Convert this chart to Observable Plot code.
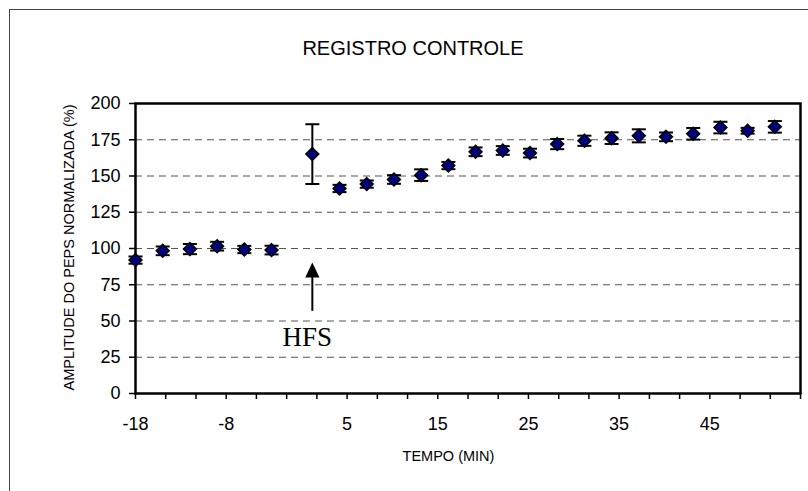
<!DOCTYPE html>
<html>
<head>
<meta charset="utf-8">
<script src="https://cdn.jsdelivr.net/npm/d3@7"></script>
<script src="https://cdn.jsdelivr.net/npm/@observablehq/plot@0.6"></script>
<style>
  html, body { margin: 0; padding: 0; background: #fff; overflow: hidden; }
  #wrap { position: relative; width: 808px; height: 491px; overflow: hidden; }
  #outer { position: absolute; left: 9px; top: 9px; width: 900px; height: 600px; border: 1px solid #444; box-sizing: border-box; }
  #chart { position: absolute; left: 0; top: 0; }
</style>
</head>
<body>
<div id="wrap"><div id="outer"></div><div id="chart"></div></div>
<script>
// ---- data ----
const time = [-18, -15, -12, -9, -6, -3, 1.5, 4.5, 7.5, 10.5, 13.5, 16.5, 19.5, 22.5, 25.5, 28.5, 31.5, 34.5, 37.5, 40.5, 43.5, 46.5, 49.5, 52.5];
const amplitude = [92.0, 98.4, 99.6, 101.6, 99.3, 98.9, 165.1, 141.4, 144.4, 147.6, 150.6, 157.2, 166.7, 167.6, 165.8, 172.0, 174.3, 176.1, 177.7, 177.0, 179.1, 183.4, 181.2, 183.9];
const sem = [2.5, 3, 3.5, 3, 2.5, 3, 20.6, 2.5, 2.5, 3, 4, 2.5, 3, 3, 3, 3.5, 3.5, 4, 4.5, 3, 4, 4, 2, 4];

const xTickValues = [-18, -14.67, -11.33, -8, -4.67, -1.33, 2, 5.33, 8.67, 12, 15.33, 18.67, 22, 25.33, 28.67, 32, 35.33, 38.67, 42, 45.33, 48.67, 52, 55.33];
const xTickLabels = ["-18", "", "", "-8", "", "", "", "5", "", "", "15", "", "", "25", "", "", "35", "", "", "45", "", "", ""];
const yTicks = [0, 25, 50, 75, 100, 125, 150, 175, 200];
const yGrid = [25, 50, 75, 100, 125, 150, 175];

const hfsTime = 1.5;
const hfsArrow = [{t: hfsTime, from: 57, to: 85}];
const hfsTip = [{t: hfsTime, y: 90.3}];
const hfsLabel = [{t: hfsTime, y: 39, text: "HFS"}];

const title = "REGISTRO CONTROLE";
const xTitle = "TEMPO (MIN)";
const yTitle = "AMPLITUDE DO PEPS NORMALIZADA (%)";

const rows = time.map((t, i) => ({t, y: amplitude[i], lo: amplitude[i] - sem[i], hi: amplitude[i] + sem[i]}));

const capSymbol = {
  draw(ctx, size) {
    const w = Math.sqrt(size / Math.PI);
    ctx.moveTo(-w, 0); ctx.lineTo(w, 0);
  }
};
const triSymbol = {
  draw(ctx, size) {
    const w = Math.sqrt(size / Math.PI);
    ctx.moveTo(0, 0); ctx.lineTo(w * 0.95, w * 2); ctx.lineTo(-w * 0.95, w * 2); ctx.closePath();
  }
};

const FONT = "Liberation Sans, Arial, sans-serif";

const plot = Plot.plot({
  width: 808,
  height: 491,
  marginLeft: 135,
  marginRight: 8,
  marginTop: 103,
  marginBottom: 98,
  style: {fontFamily: FONT, background: "transparent", color: "#000"},
  x: {domain: [-18, 55.33]},
  y: {domain: [0, 200]},
  marks: [
    Plot.ruleY(yGrid, {stroke: "#555", strokeWidth: 1, strokeDasharray: "7,5"}),
    Plot.axisY({ticks: yTicks, tickSize: 6, tickPadding: 9, fontSize: 18, label: null, stroke: "#000", strokeWidth: 1.5}),
    Plot.axisX({ticks: xTickValues, tickFormat: (d, i) => xTickLabels[i], tickSize: 6, tickPadding: 18, fontSize: 18, label: null, stroke: "#000", strokeWidth: 1.5}),
    Plot.frame({stroke: "#000", strokeWidth: 2.5}),
    // HFS arrow
    Plot.link(hfsArrow, {x1: "t", x2: "t", y1: "from", y2: "to", stroke: "#000", strokeWidth: 2}),
    Plot.dot(hfsTip, {x: "t", y: "y", symbol: triSymbol, r: 7.5, fill: "#000", stroke: "none"}),
    Plot.text(hfsLabel, {x: "t", y: "y", text: "text", fontFamily: "Liberation Serif, Times New Roman, serif", fontSize: 27, dx: -5, fill: "#000"}),
    // error bars
    Plot.ruleX(rows, {x: "t", y1: "lo", y2: "hi", stroke: "#000", strokeWidth: 2}),
    Plot.dot(rows, {x: "t", y: "lo", symbol: capSymbol, r: 7, stroke: "#000", strokeWidth: 2}),
    Plot.dot(rows, {x: "t", y: "hi", symbol: capSymbol, r: 7, stroke: "#000", strokeWidth: 2}),
    // markers
    Plot.dot(rows, {x: "t", y: "y", symbol: "diamond2", r: 5.8, fill: "#000080", stroke: "#000", strokeWidth: 1.5})
  ]
});

const svg = d3.select(plot);
svg.append("text").attr("x", 413).attr("y", 48).attr("text-anchor", "middle").attr("dominant-baseline", "central")
  .style("font-family", FONT).style("font-size", "20px").text(title);
svg.append("text").attr("x", 448.5).attr("y", 456).attr("text-anchor", "middle").attr("dominant-baseline", "central")
  .style("font-family", FONT).style("font-size", "14.5px").text(xTitle);
svg.append("text").attr("transform", "translate(69,247.5) rotate(-90)").attr("text-anchor", "middle").attr("dominant-baseline", "central")
  .style("font-family", FONT).style("font-size", "14.5px").text(yTitle);

document.getElementById("chart").appendChild(plot);
</script>
</body>
</html>
